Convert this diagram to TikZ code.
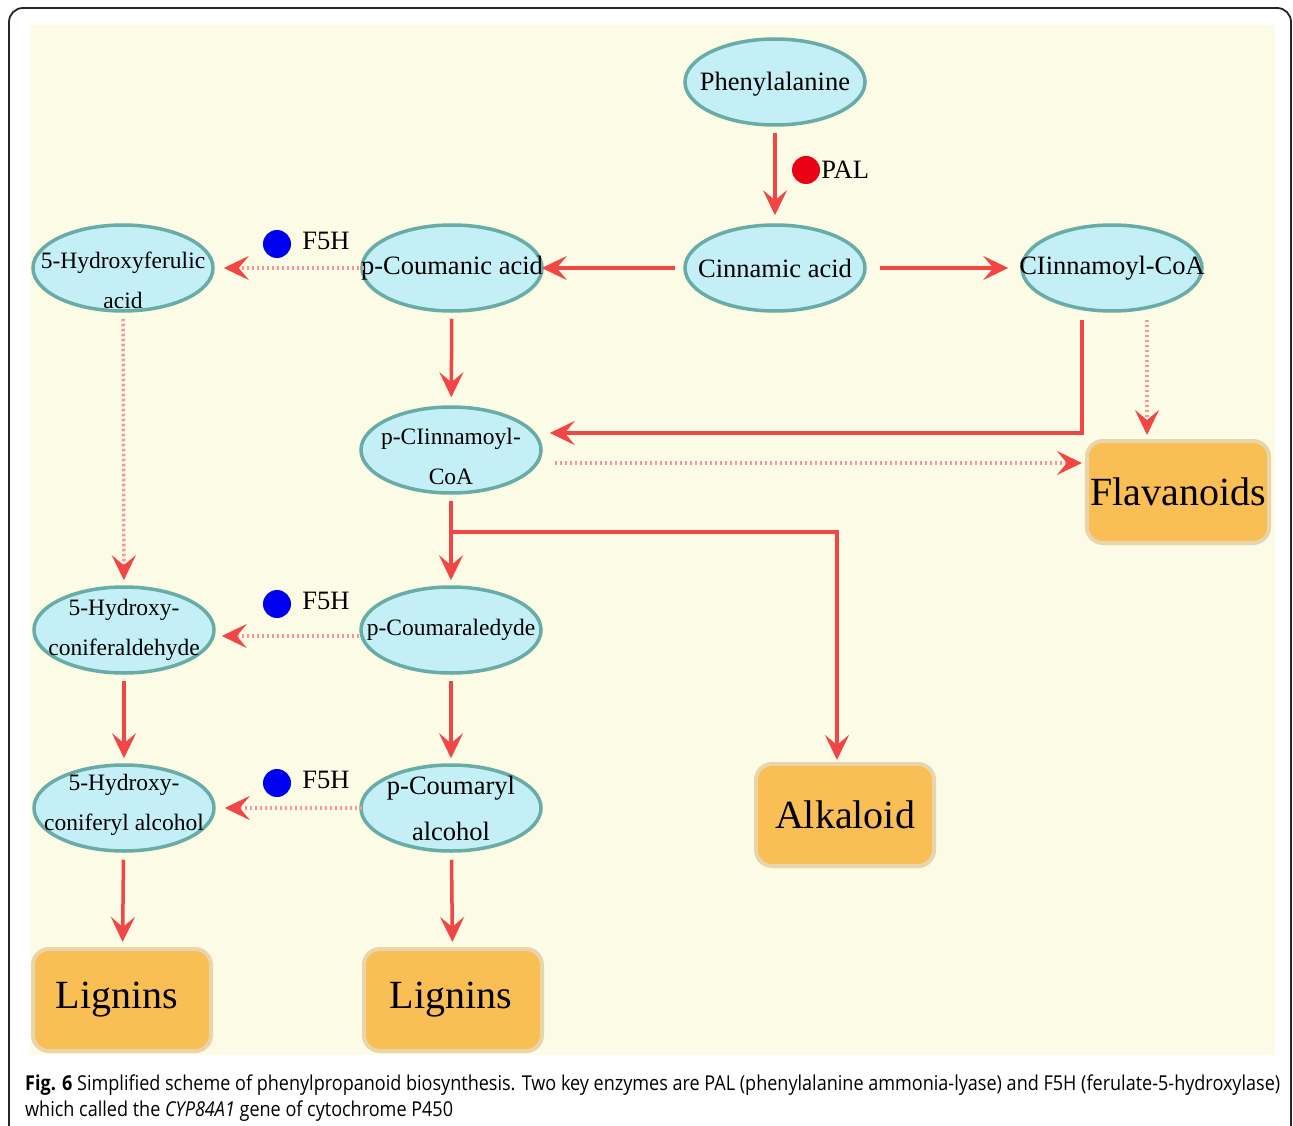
\documentclass[tikz,border=0pt]{standalone}
\usepackage{fontspec}
\setmainfont{Liberation Serif}
\newfontfamily\capfont[FakeStretch=0.88]{Open Sans}
\usetikzlibrary{shapes.geometric,arrows.meta,positioning}

\definecolor{paper}{RGB}{252,251,230}
\definecolor{cpdfill}{RGB}{196,239,246}
\definecolor{cpdline}{RGB}{104,172,166}
\definecolor{prodfill}{RGB}{249,190,84}
\definecolor{prodline}{RGB}{232,213,170}
\definecolor{flowred}{RGB}{240,70,70}
\definecolor{minorred}{RGB}{246,150,150}
\definecolor{paldot}{RGB}{236,0,20}
\definecolor{fdot}{RGB}{0,0,240}

\tikzset{
  compound/.style={ellipse, draw=cpdline, fill=cpdfill, line width=3.5pt,
    minimum width=180pt, minimum height=86pt, inner sep=0pt},
  cpdtext/.style={font=\fontsize{26.5}{46}\selectfont, align=center},
  cpdsmall/.style={font=\fontsize{23.5}{40}\selectfont, align=center},
  product/.style={rectangle, rounded corners=16pt, draw=prodline, fill=prodfill,
    line width=4pt, minimum width=178pt, minimum height=102pt,
    font=\fontsize{40}{40}\selectfont},
  flow/.style={draw=flowred, line width=3.5pt,
    -{Stealth[length=25pt, width=24pt, inset=10pt, color=flowred]}},
  minor/.style={flow, draw=minorred, dash pattern=on 2.5pt off 2.5pt},
  enzyme/.style={circle, minimum size=28pt, inner sep=0pt},
  enzname/.style={font=\fontsize{26.5}{30}\selectfont, inner sep=0pt}
}

\begin{document}
\begin{tikzpicture}[x=1pt, y=-1pt]

\useasboundingbox (0,0) rectangle (1293,1126);
\draw[line width=1.8pt, black!85, rounded corners=14pt] (9,8) rectangle (1291,1150);
\fill[paper] (30,25) rectangle (1275,1055);

\node[compound, label={[cpdtext, yshift=-2pt]center:Phenylalanine}] (phe) at (775,82) {};
\node[compound, label={[cpdtext]center:Cinnamic acid}] (cin) at (775,268) {};
\node[compound, label={[cpdtext]center:CIinnamoyl-CoA}] (cinc) at (1112,268) {};
\node[compound, label={[cpdtext]center:p-Coumanic acid}] (pcou) at (452,268) {};
\node[compound, label={[cpdsmall, yshift=-12pt]center:{5-Hydroxyferulic\\acid}}] (hfa) at (123,268) {};
\node[compound, label={[cpdsmall, yshift=-6pt]center:{p-CIinnamoyl-\\CoA}}] (pcin) at (451,450) {};
\node[compound, label={[cpdsmall]center:p-Coumaraledyde}] (pcal) at (451,630) {};
\node[compound, label={[cpdsmall]center:{5-Hydroxy-\\coniferaldehyde}}] (hcald) at (124,630) {};
\node[compound, label={[cpdsmall, yshift=3pt]center:{5-Hydroxy-\\coniferyl alcohol}}] (hcalc) at (124,808) {};
\node[compound, label={[cpdtext]center:{p-Coumaryl\\alcohol}}] (pcoh) at (451,808) {};

\node[product] (flav) at (1178,492) {Flavanoids};
\node[product] (alk) at (845,815) {Alkaloid};
\node[product] (lig1) at (122,1000) {\hspace{-10pt}Lignins};
\node[product] (lig2) at (453,1000) {\hspace{-4pt}Lignins};

\node[enzyme, fill=paldot] (pal) at (806,170) {};
\node[enzname, right=1pt of pal] (palname) {PAL};
\node[enzyme, fill=fdot] (f5ha) at (277,244) {};
\node[enzname, right=11pt of f5ha, yshift=3pt] (f5hna) {F5H};
\node[enzyme, fill=fdot] (f5hb) at (277,604) {};
\node[enzname, right=11pt of f5hb, yshift=3pt] (f5hnb) {F5H};
\node[enzyme, fill=fdot] (f5hc) at (277,783) {};
\node[enzname, right=11pt of f5hc, yshift=3pt] (f5hnc) {F5H};

\draw[flow, shorten <=6pt, shorten >=8pt] (phe) -- (cin);
\draw[flow, shorten <=8pt, shorten >=-2pt] (cin) -- (pcou);
\draw[flow, shorten <=13pt, shorten >=12pt] (cin) -- (cinc);
\draw[minor, shorten <=-4pt, shorten >=9pt] (pcou) -- (hfa);
\draw[flow, shorten <=6pt, shorten >=8pt] (pcou) -- (pcin);
\draw[flow] ([xshift=-30pt, yshift=-7pt]cinc.south) |- ([xshift=7pt, yshift=17pt]pcin.east);
\draw[minor] ([xshift=35pt, yshift=-7pt]cinc.south) -- ([xshift=-31pt, yshift=4pt]flav.north);
\draw[minor, shorten >=3pt] ([xshift=12pt, yshift=-13pt]pcin.east) coordinate (cinfrom) -- (cinfrom -| flav.west);
\draw[flow, shorten <=6pt, shorten >=5pt] (pcin) -- (pcal);
\coordinate (branch) at (451,532);
\draw[flow] (branch) -| ([xshift=-8pt, yshift=2pt]alk.north);
\draw[minor, shorten >=6pt] ([yshift=-6pt]pcal.west) coordinate (calfrom) -- (calfrom -| hcald.east);
\draw[flow, shorten <=6pt, shorten >=5pt] (pcal) -- (pcoh);
\draw[minor, shorten <=-3pt, shorten >=9pt] (pcoh) -- (hcalc);
\draw[flow, shorten <=7pt, shorten >=5pt] (pcoh) -- (lig2);
\draw[minor, shorten <=6pt, shorten >=5pt] (hfa) -- (hcald);
\draw[flow, shorten <=6pt, shorten >=5pt] (hcald) -- (hcalc);
\draw[flow, shorten <=7pt, shorten >=5pt] (hcalc) -- (lig1);

\node[anchor=base west, inner sep=0pt, font=\capfont\fontsize{20.5}{26}\selectfont] (cap1) at (25,1090)
  {\textbf{Fig. 6} Simplified scheme of phenylpropanoid biosynthesis. Two key enzymes are PAL (phenylalanine ammonia-lyase) and F5H (ferulate-5-hydroxylase)};
\node[anchor=base west, inner sep=0pt, font=\capfont\fontsize{20.5}{26}\selectfont] (cap2) at (25,1116)
  {which called the \textit{CYP84A1} gene of cytochrome P450};

\end{tikzpicture}
\end{document}
